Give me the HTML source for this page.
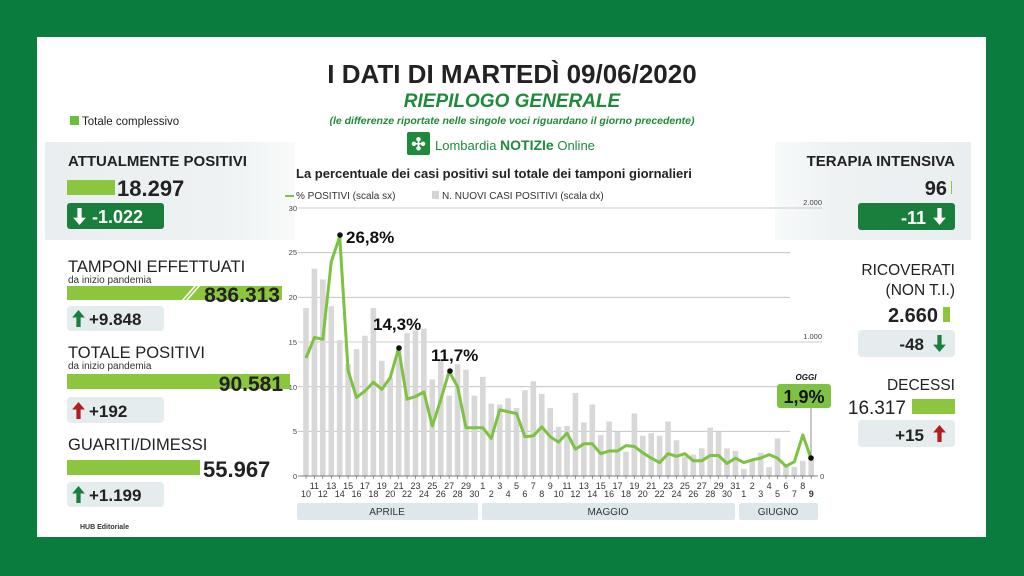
<!DOCTYPE html>
<html><head><meta charset="utf-8"><style>
html,body{margin:0;padding:0;width:1024px;height:576px;overflow:hidden;background:#0a7d3e}
svg{display:block;font-family:"Liberation Sans",sans-serif}
</style></head><body>
<svg id="s" width="1024" height="576" viewBox="0 0 1024 576" xmlns="http://www.w3.org/2000/svg">
<defs>
<linearGradient id="gl" x1="0" x2="1"><stop offset="0" stop-color="#e9eef0"/><stop offset="0.7" stop-color="#eef2f3"/><stop offset="1" stop-color="#f8fafa"/></linearGradient>
<linearGradient id="gr" x1="0" x2="1"><stop offset="0" stop-color="#f8fafa"/><stop offset="0.3" stop-color="#eef2f3"/><stop offset="1" stop-color="#e9eef0"/></linearGradient>
<symbol id="up" viewBox="0 0 12 16"><path d="M6 0 L12 7 L8 7 L8 16 L4 16 L4 7 L0 7Z"/></symbol>
<symbol id="dn" viewBox="0 0 12 16"><path d="M6 16 L12 9 L8 9 L8 0 L4 0 L4 9 L0 9Z"/></symbol>
</defs>
<rect x="37" y="37" width="949" height="500" fill="#fff"/>
<rect x="45" y="142" width="250" height="98" fill="url(#gl)"/>
<rect x="775" y="142" width="196" height="98" fill="url(#gr)"/>

<!-- header -->
<text x="512" y="83" text-anchor="middle" font-size="26" font-weight="bold" fill="#222">I DATI DI MARTEDÌ 09/06/2020</text>
<text x="512" y="107" text-anchor="middle" font-size="19" font-weight="bold" font-style="italic" fill="#1f8a3c">RIEPILOGO GENERALE</text>
<text x="512" y="124" text-anchor="middle" font-size="10.5" font-weight="bold" font-style="italic" fill="#1f8a3c">(le differenze riportate nelle singole voci riguardano il giorno precedente)</text>
<rect x="407" y="132" width="23" height="23" rx="2" fill="#1f8a3c"/>
<text x="418.5" y="150" text-anchor="middle" font-size="17" fill="#fff" font-weight="bold">✣</text>
<text x="435" y="150" font-size="13" fill="#1f8a3c">Lombardia <tspan font-weight="bold" font-size="14">NOTIZIe</tspan> Online</text>

<rect x="70" y="116" width="9" height="9" fill="#6cbf3a"/>
<text x="82" y="125" font-size="11.5" fill="#222">Totale complessivo</text>

<!-- left panel -->
<text x="68" y="166" font-size="15" font-weight="bold" fill="#222">ATTUALMENTE POSITIVI</text>
<rect x="67" y="180" width="48" height="15" fill="#8cc63f"/>
<text x="117" y="196" font-size="22" font-weight="bold" fill="#222">18.297</text>
<rect x="67" y="203" width="97" height="26" rx="3" fill="#1a7f3c"/>
<use href="#dn" x="73" y="208" width="13" height="17" fill="#fff"/>
<text x="92" y="223" font-size="18" font-weight="bold" fill="#fff">-1.022</text>

<text x="68" y="272" font-size="16.5" fill="#222">TAMPONI EFFETTUATI</text>
<text x="68" y="283" font-size="10" fill="#333">da inizio pandemia</text>
<rect x="67" y="286" width="215" height="14" fill="#8cc63f"/>
<line x1="182" y1="301" x2="196" y2="285" stroke="#fff" stroke-width="1.5"/>
<line x1="186" y1="301" x2="200" y2="285" stroke="#fff" stroke-width="1.5"/>
<text x="280" y="302" text-anchor="end" font-size="21" font-weight="bold" fill="#222">836.313</text>
<rect x="67" y="306" width="97" height="25" rx="4" fill="#e5ecee"/>
<use href="#up" x="72" y="310" width="13" height="17" fill="#1a7f3c"/>
<text x="89" y="325" font-size="17" font-weight="bold" fill="#222">+9.848</text>

<text x="68" y="358" font-size="16.5" fill="#222">TOTALE POSITIVI</text>
<text x="68" y="369" font-size="10" fill="#333">da inizio pandemia</text>
<rect x="67" y="374" width="223" height="15" fill="#8cc63f"/>
<text x="283" y="391" text-anchor="end" font-size="21" font-weight="bold" fill="#222">90.581</text>
<rect x="67" y="397" width="97" height="26" rx="4" fill="#e5ecee"/>
<use href="#up" x="72" y="402" width="13" height="17" fill="#b01e1e"/>
<text x="89" y="417" font-size="17" font-weight="bold" fill="#222">+192</text>

<text x="68" y="450" font-size="16.5" fill="#222">GUARITI/DIMESSI</text>
<rect x="67" y="460" width="133" height="15" fill="#8cc63f"/>
<text x="203" y="477" font-size="22" font-weight="bold" fill="#222">55.967</text>
<rect x="67" y="482" width="97" height="25" rx="4" fill="#e5ecee"/>
<use href="#up" x="72" y="486" width="13" height="17" fill="#1a7f3c"/>
<text x="89" y="501" font-size="17" font-weight="bold" fill="#222">+1.199</text>
<text x="80" y="529" font-size="7" font-weight="bold" fill="#333">HUB Editoriale</text>

<!-- right panel -->
<text x="955" y="166" text-anchor="end" font-size="15" font-weight="bold" fill="#222">TERAPIA INTENSIVA</text>
<text x="947" y="195" text-anchor="end" font-size="20" font-weight="bold" fill="#222">96</text>
<rect x="951" y="181" width="1" height="13" fill="#8cc63f"/>
<rect x="858" y="203" width="97" height="27" rx="3" fill="#1a7f3c"/>
<text x="926" y="224" text-anchor="end" font-size="18" font-weight="bold" fill="#fff">-11</text>
<use href="#dn" x="933" y="208" width="13" height="17" fill="#fff"/>
<text x="955" y="275" text-anchor="end" font-size="15.5" fill="#222">RICOVERATI</text>
<text x="955" y="295" text-anchor="end" font-size="15.5" fill="#222">(NON T.I.)</text>
<text x="938" y="322" text-anchor="end" font-size="20" font-weight="bold" fill="#222">2.660</text>
<rect x="943" y="307" width="7" height="15" fill="#8cc63f"/>
<rect x="858" y="330" width="97" height="27" rx="4" fill="#e5ecee"/>
<text x="924" y="350" text-anchor="end" font-size="17" font-weight="bold" fill="#222">-48</text>
<use href="#dn" x="933" y="335" width="13" height="17" fill="#1a7f3c"/>
<text x="955" y="390" text-anchor="end" font-size="15.5" fill="#222">DECESSI</text>
<text x="906" y="414" text-anchor="end" font-size="19" fill="#222">16.317</text>
<rect x="912" y="399" width="43" height="15" fill="#8cc63f"/>
<rect x="858" y="420" width="97" height="27" rx="4" fill="#e5ecee"/>
<text x="924" y="441" text-anchor="end" font-size="17" font-weight="bold" fill="#222">+15</text>
<use href="#up" x="933" y="425" width="13" height="17" fill="#b01e1e"/>

<!-- chart -->
<text x="296" y="178" font-size="13" font-weight="bold" fill="#222">La percentuale dei casi positivi sul totale dei tamponi giornalieri</text>
<line x1="285" y1="196" x2="294" y2="196" stroke="#7dc242" stroke-width="2"/>
<text x="296" y="199" font-size="10" fill="#333">% POSITIVI (scala sx)</text>
<rect x="432" y="191" width="7" height="8" fill="#d4d4d4"/>
<text x="442" y="199" font-size="10" fill="#333">N. NUOVI CASI POSITIVI (scala dx)</text>
<g id="grid" stroke="#bbb" stroke-width="0.8">
<line x1="298" y1="208" x2="822" y2="208"/>
<line x1="298" y1="252.7" x2="790" y2="252.7"/>
<line x1="298" y1="297.3" x2="790" y2="297.3"/>
<line x1="298" y1="342" x2="822" y2="342"/>
<line x1="298" y1="386.7" x2="790" y2="386.7"/>
<line x1="298" y1="431.3" x2="790" y2="431.3"/>
</g>
<g font-size="7.5" fill="#444" text-anchor="end">
<text x="297" y="211">30</text><text x="297" y="255">25</text><text x="297" y="300">20</text>
<text x="297" y="345">15</text><text x="297" y="390">10</text><text x="297" y="434">5</text><text x="297" y="479">0</text>
<text x="822" y="205">2.000</text><text x="822" y="339">1.000</text>
</g>
<text x="820" y="479" font-size="7.5" fill="#444">0</text>
<g id="bars" fill="#d8d8d8"></g>
<line x1="298" y1="476" x2="818" y2="476" stroke="#555" stroke-width="0.8"/>
<polyline id="ln" fill="none" stroke="#7dc242" stroke-width="3" stroke-linejoin="round"/>
<line x1="811" y1="408" x2="811" y2="457" stroke="#777" stroke-width="0.8"/>
<circle cx="340" cy="235" r="2.8" fill="#111"/>
<circle cx="399" cy="348" r="2.8" fill="#111"/>
<circle cx="450" cy="371" r="2.8" fill="#111"/>
<circle cx="811" cy="458" r="2.8" fill="#111"/>
<text x="346" y="243" font-size="17" font-weight="bold" fill="#111">26,8%</text>
<text x="373" y="330" font-size="17" font-weight="bold" fill="#111">14,3%</text>
<text x="431" y="361" font-size="17" font-weight="bold" fill="#111">11,7%</text>
<text x="806" y="380" font-size="8" font-weight="bold" font-style="italic" fill="#111" text-anchor="middle">OGGI</text>
<rect x="777" y="384" width="54" height="24" rx="3" fill="#7dc242"/>
<text x="804" y="403" text-anchor="middle" font-size="18" font-weight="bold" fill="#111">1,9%</text>

<g id="ticks" stroke="#555" stroke-width="0.6"></g>
<g font-size="9" fill="#333" text-anchor="middle">
<text x="306" y="497">10</text><text x="314.4" y="489">11</text><text x="322.8" y="497">12</text><text x="331.3" y="489">13</text><text x="339.7" y="497">14</text><text x="348.1" y="489">15</text><text x="356.5" y="497">16</text><text x="364.9" y="489">17</text><text x="373.4" y="497">18</text><text x="381.8" y="489">19</text><text x="390.2" y="497">20</text><text x="398.6" y="489">21</text><text x="407" y="497">22</text><text x="415.5" y="489">23</text><text x="423.9" y="497">24</text><text x="432.3" y="489">25</text><text x="440.7" y="497">26</text><text x="449.1" y="489">27</text><text x="457.6" y="497">28</text><text x="466" y="489">29</text><text x="474.4" y="497">30</text>
<text x="482.8" y="489">1</text><text x="491.2" y="497">2</text><text x="499.7" y="489">3</text><text x="508.1" y="497">4</text><text x="516.5" y="489">5</text><text x="524.9" y="497">6</text><text x="533.3" y="489">7</text><text x="541.8" y="497">8</text><text x="550.2" y="489">9</text><text x="558.6" y="497">10</text><text x="567" y="489">11</text><text x="575.4" y="497">12</text><text x="583.9" y="489">13</text><text x="592.3" y="497">14</text><text x="600.7" y="489">15</text><text x="609.1" y="497">16</text><text x="617.5" y="489">17</text><text x="626" y="497">18</text><text x="634.4" y="489">19</text><text x="642.8" y="497">20</text><text x="651.2" y="489">21</text><text x="659.6" y="497">22</text><text x="668.1" y="489">23</text><text x="676.5" y="497">24</text><text x="684.9" y="489">25</text><text x="693.3" y="497">26</text><text x="701.7" y="489">27</text><text x="710.2" y="497">28</text><text x="718.6" y="489">29</text><text x="727" y="497">30</text><text x="735.4" y="489">31</text>
<text x="743.8" y="497">1</text><text x="752.3" y="489">2</text><text x="760.7" y="497">3</text><text x="769.1" y="489">4</text><text x="777.5" y="497">5</text><text x="785.9" y="489">6</text><text x="794.4" y="497">7</text><text x="802.8" y="489">8</text><text x="811.2" y="497" font-weight="bold">9</text>
</g>
<rect x="297" y="503" width="181" height="17" rx="2" fill="#dde8ec"/>
<rect x="482" y="503" width="253" height="17" rx="2" fill="#dde8ec"/>
<rect x="739" y="503" width="79" height="17" rx="2" fill="#dde8ec"/>
<g font-size="10" fill="#333" text-anchor="middle">
<text x="387" y="515">APRILE</text><text x="608" y="515">MAGGIO</text><text x="778" y="515">GIUGNO</text>
</g>
</svg>
<script>
var p=[13.2,15.5,15.3,24,26.8,11.8,8.8,9.5,10.5,9.7,11,14.3,8.6,8.9,9.4,5.6,8.5,11.7,10,5.4,5.4,5.4,4.2,7.4,7.2,7.0,4.4,4.5,5.5,4.4,3.8,4.8,3.0,3.6,3.6,2.5,2.8,2.8,3.4,3.3,2.6,2.0,1.5,2.5,2.2,2.5,1.7,1.7,2.3,2.3,1.4,2.0,1.5,1.8,2.0,2.4,2.0,1.1,1.6,4.6,1.9];
var b=[18.8,23.2,22,19,15.2,12.5,14.2,15.7,18.8,12.9,11,14.3,16,16.3,16.5,10.8,13,9,12.5,11.9,9,11.1,8.1,8,8.7,7.6,9.6,10.6,9.2,7.6,5.5,5.6,9.3,6,8,4.6,6.1,5,2.7,7,4.5,4.8,4.5,6.1,4,2.2,2.4,3.1,5.4,5,3.1,2.8,0.8,1.8,2.6,1,4.2,1.2,1,1.7,1.8];
var NS="http://www.w3.org/2000/svg",k=268/30,pts=[];
var g=document.getElementById("bars"),t=document.getElementById("ticks");
for(var i=0;i<61;i++){var x=306+i*8.42;
var r=document.createElementNS(NS,"rect");r.setAttribute("x",x-2.8);r.setAttribute("width",5.6);
r.setAttribute("y",476-b[i]*k);r.setAttribute("height",b[i]*k);g.appendChild(r);
var l=document.createElementNS(NS,"line");l.setAttribute("x1",x);l.setAttribute("x2",x);l.setAttribute("y1",476);l.setAttribute("y2",479);t.appendChild(l);
pts.push(x.toFixed(1)+","+(476-p[i]*k).toFixed(1));}
document.getElementById("ln").setAttribute("points",pts.join(" "));
</script>
</body></html>
